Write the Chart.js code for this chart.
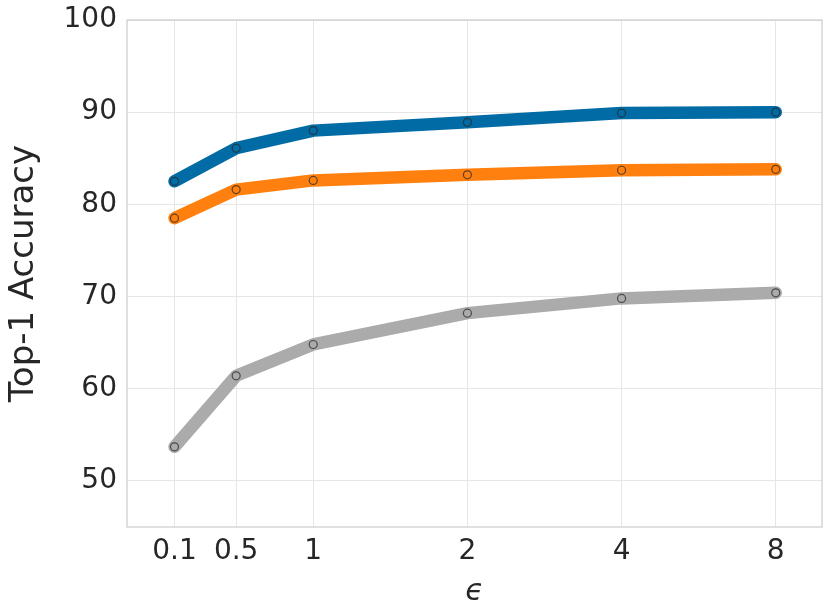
<!DOCTYPE html>
<html><head><meta charset="utf-8">
<script src="https://cdn.jsdelivr.net/npm/chart.js@4"></script>
<style>html,body{margin:0;padding:0;background:#fff}</style>
</head><body>
<canvas id="c" width="830" height="612"></canvas>
<script>
const epsilons = [0.1, 0.5, 1, 2, 4, 8];
const tickLabels = ['0.1', '0.5', '1', '2', '4', '8'];
const blueSeries = [82.5, 86.1, 88.0, 88.9, 89.9, 90.0];
const orangeSeries = [78.5, 81.6, 82.6, 83.2, 83.7, 83.8];
const graySeries = [53.7, 61.4, 64.8, 68.2, 69.8, 70.4];
const yTicks = [50, 60, 70, 80, 90, 100];

// symmetric-log (base 2, linear threshold 1) transform for the x axis
function symlog2(x) { return x <= 1 ? x : 1 + Math.log2(x); }

function makeSeries(vals, color) {
  return {
    data: epsilons.map((e, i) => ({ x: symlog2(e), y: vals[i] })),
    borderColor: color,
    backgroundColor: color,
    borderWidth: 12.5,
    borderCapStyle: 'round',
    borderJoinStyle: 'round',
    pointRadius: 4,
    pointHoverRadius: 4,
    pointBorderWidth: 1.2,
    pointBorderColor: 'rgba(40,40,40,0.75)',
    pointBackgroundColor: 'rgba(0,0,0,0)',
    tension: 0,
    fill: false
  };
}

const frame = {
  id: 'frame',
  afterDatasetsDraw(chart) {
    const a = chart.chartArea, ctx = chart.ctx;
    ctx.save();
    ctx.strokeStyle = '#cccccc';
    ctx.lineWidth = 1.2;
    ctx.strokeRect(a.left, a.top, a.right - a.left, a.bottom - a.top);
    ctx.restore();
  }
};

new Chart(document.getElementById('c'), {
  type: 'line',
  data: { datasets: [makeSeries(graySeries, '#ababab'), makeSeries(orangeSeries, '#ff800e'), makeSeries(blueSeries, '#006ba4')] },
  options: {
    responsive: false,
    animation: false,
    layout: { padding: { top: 20, right: 8, left: 0, bottom: 0 } },
    plugins: { legend: { display: false }, tooltip: { enabled: false } },
    scales: {
      x: {
        type: 'linear',
        min: -0.208,
        max: 4.30,
        afterBuildTicks(scale) { scale.ticks = epsilons.map(e => ({ value: symlog2(e) })); },
        afterFit(scale) { scale.height = 85; scale.paddingLeft = 0; scale.paddingRight = 0; },
        ticks: {
          autoSkip: false, maxRotation: 0, padding: 8,
          color: '#262626', font: { family: 'DejaVu Sans', size: 28 },
          callback: (v, i) => tickLabels[i]
        },
        grid: { color: '#e6e6e6', lineWidth: 1, drawTicks: false },
        border: { display: false },
        title: { display: true, text: 'ϵ', color: '#262626', font: { family: 'DejaVu Sans', size: 30, style: 'italic' }, padding: { top: 2, bottom: 2 } }
      },
      y: {
        min: 45, max: 100,
        afterBuildTicks(scale) { scale.ticks = yTicks.map(v => ({ value: v })); },
        afterFit(scale) { scale.width = 127; scale.paddingTop = 0; scale.paddingBottom = 0; },
        ticks: { padding: 10, color: '#262626', font: { family: 'DejaVu Sans', size: 28 } },
        grid: { color: '#e6e6e6', lineWidth: 1, drawTicks: false },
        border: { display: false },
        title: { display: true, text: 'Top-1 Accuracy', color: '#262626', font: { family: 'DejaVu Sans', size: 34 }, padding: { top: 4, bottom: 4 } }
      }
    }
  },
  plugins: [frame]
});
</script>
</body></html>
